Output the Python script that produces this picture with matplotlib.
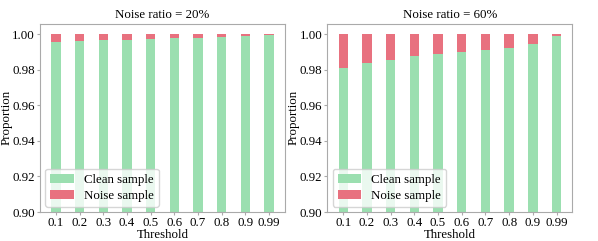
import matplotlib
matplotlib.use('Agg')
import matplotlib.pyplot as plt
import numpy as np

thresholds = ['0.1', '0.2', '0.3', '0.4', '0.5', '0.6', '0.7', '0.8', '0.9', '0.99']
clean_20 = [0.9955, 0.9961, 0.9966, 0.9970, 0.9974, 0.9978, 0.9979, 0.9985, 0.9989, 0.9996]
clean_60 = [0.9809, 0.9839, 0.9856, 0.9875, 0.9886, 0.9899, 0.9910, 0.9921, 0.9942, 0.9989]
titles = ['Noise ratio = 20%', 'Noise ratio = 60%']

FS = 9.3
plt.rcParams['font.family'] = ['Liberation Serif', 'DejaVu Serif']
plt.rcParams['font.size'] = FS
GREEN = '#9bdfb0'
RED = '#e8717f'

fig = plt.figure(figsize=(5.98, 2.41), dpi=100)
rects = [[40/598, 29/241, 245/598, 188.5/241], [327.4/598, 29/241, 245/598, 188.5/241]]
for r, clean, title in zip(rects, [clean_20, clean_60], titles):
    ax = fig.add_axes(r)
    x = np.arange(len(thresholds))
    clean = np.array(clean)
    noise = 1 - clean
    ax.bar(x, clean, width=0.4, color=GREEN, label='Clean sample')
    ax.bar(x, noise, width=0.4, bottom=clean, color=RED, label='Noise sample')
    ax.set_ylim(0.9, 1.006)
    ax.set_yticks([0.90, 0.92, 0.94, 0.96, 0.98, 1.00])
    ax.set_yticklabels(['0.90', '0.92', '0.94', '0.96', '0.98', '1.00'])
    ax.set_xticks(x)
    ax.set_xticklabels(thresholds)
    ax.set_xlabel('Threshold', labelpad=0)
    ax.set_ylabel('Proportion', labelpad=0)
    ax.set_title(title, fontsize=FS, pad=4)
    for s in ax.spines.values():
        s.set_color('#aaaaaa')
    ax.tick_params(colors='#aaaaaa', labelcolor='black', length=2.5, pad=1.2)
    ax.legend(loc='lower left', fontsize=FS, framealpha=0.8, edgecolor='#cccccc',
              borderaxespad=0.4, handlelength=1.8, labelspacing=0.3)

fig.savefig('out.png', dpi=100)
